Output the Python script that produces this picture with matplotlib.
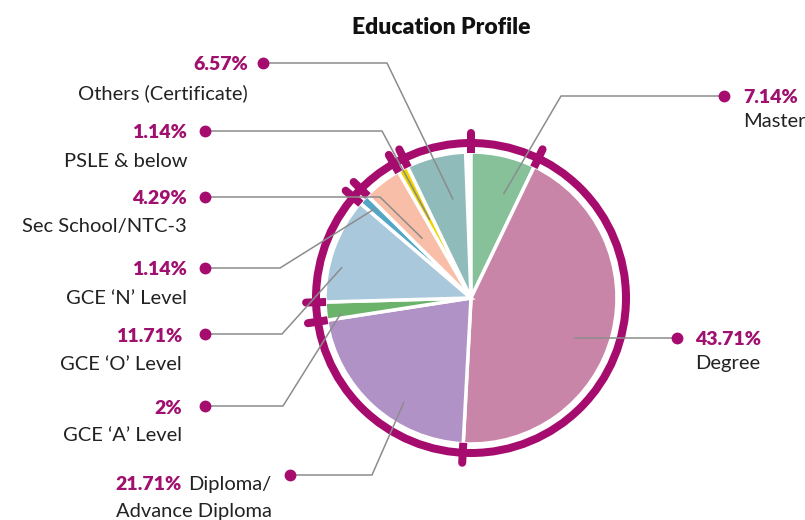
import numpy as np
import matplotlib.pyplot as plt
from matplotlib.patches import Circle

plt.rcParams['font.family'] = ['Lato', 'DejaVu Sans']

# data, clockwise from 12 o'clock
categories = ["Master", "Degree", "Diploma/", "GCE ‘A’ Level", "GCE ‘O’ Level",
              "GCE ‘N’ Level", "Sec School/NTC-3", "PSLE & below", "Others (Certificate)"]
values = [7.14, 43.71, 21.71, 2, 11.71, 1.14, 4.29, 1.14, 6.57]
pct_labels = ["7.14%", "43.71%", "21.71%", "2%", "11.71%", "1.14%", "4.29%", "1.14%", "6.57%"]
colors = ["#86c19a", "#c985a8", "#b192c6", "#6bb26a", "#a9c8dc",
          "#54a6c6", "#f8bea8", "#eed400", "#90bbbb"]

ring_color = "#a50c6e"
pct_color = "#a0106e"
line_color = "#8c8c8c"
text_color = "#222222"

W, H = 805, 520
cx, cy = 471, H - 298
R = 146
px = 0.72  # one pixel in points at dpi 100

# label layout (image pixels, y down): anchor position inside slice (fraction of slice, fraction of radius),
# dot, elbow x, text anchor x, pct y, name y, alignment
layout = [
    dict(frac=0.68, rf=0.75, dot=(724, 96), elbow=561, tx=743, py=96, ny=120, ha="left"),
    dict(frac=0.55, rf=0.77, dot=(677, 338), elbow=None, tx=695, py=338, ny=362, ha="left"),
    dict(frac=0.38, rf=0.85, dot=(290, 475), elbow=372, tx=182, py=483, ny=510, ha="right"),
    dict(frac=0.25, rf=0.90, dot=(205, 406), elbow=283, tx=182, py=407, ny=434, ha="right"),
    dict(frac=0.35, rf=0.91, dot=(205, 334), elbow=282, tx=182, py=335, ny=363, ha="right"),
    dict(frac=0.50, rf=0.90, dot=(205, 268), elbow=280, tx=187, py=268, ny=297, ha="right"),
    dict(frac=0.39, rf=0.53, dot=(205, 197), elbow=380, tx=187, py=197, ny=225, ha="right"),
    dict(frac=0.50, rf=0.61, dot=(205, 131), elbow=382, tx=187, py=131, ny=160, ha="right"),
    dict(frac=0.65, rf=0.69, dot=(263, 63), elbow=387, tx=248, py=63, ny=92, ha="right"),
]

fig = plt.figure(figsize=(8.05, 5.2), dpi=100)
ax = fig.add_axes([0, 0, 1, 1])

ax.pie(np.array(values) / 100, normalize=False, startangle=90, counterclock=False,
       center=(cx, cy), radius=R, colors=colors,
       wedgeprops=dict(edgecolor="white", linewidth=3.5 * px))

ax.add_patch(Circle((cx, cy), 155, fill=False, edgecolor=ring_color, linewidth=8 * px, zorder=2))

# ticks on the ring at every slice start
starts = np.concatenate([[0], np.cumsum(values)[:-1]])
for s in starts:
    a = np.deg2rad(90 - 360 * s / 100)
    c, sn = np.cos(a), np.sin(a)
    ax.plot([cx + (R - 1) * c, cx + 157 * c], [cy + (R - 1) * sn, cy + 157 * sn],
            color=ring_color, lw=8 * px, solid_capstyle="butt", zorder=3)
    ax.plot([cx + 156 * c, cx + 165 * c], [cy + 156 * sn, cy + 165 * sn],
            color=ring_color, lw=8 * px, solid_capstyle="round", zorder=3)

# leader lines, dots and labels
for i, lay in enumerate(layout):
    pos = starts[i] + lay["frac"] * values[i]
    a = np.deg2rad(90 - 360 * pos / 100)
    ax_, ay_ = cx + lay["rf"] * R * np.cos(a), cy + lay["rf"] * R * np.sin(a)
    dx, dy = lay["dot"][0], H - lay["dot"][1]
    xs, ys = [dx], [dy]
    if lay["elbow"] is not None:
        xs.append(lay["elbow"])
        ys.append(dy)
    else:
        ay_ = dy
    xs.append(ax_)
    ys.append(ay_)
    ax.plot(xs, ys, color=line_color, lw=1.1, zorder=4)
    ax.plot(dx, dy, "o", color=ring_color, ms=7.5, zorder=5)

    if i == 2:
        ax.text(lay["tx"], H - lay["py"], pct_labels[i], ha="right", va="center_baseline",
                fontsize=14, fontweight="heavy", color=pct_color)
        ax.text(lay["tx"] + 6, H - lay["py"], categories[i], ha="left", va="center_baseline",
                fontsize=14.5, color=text_color)
        ax.text(272, H - lay["ny"], "Advance Diploma", ha="right", va="center_baseline",
                fontsize=14.5, color=text_color)
    else:
        ax.text(lay["tx"], H - lay["py"], pct_labels[i], ha=lay["ha"], va="center_baseline",
                fontsize=14, fontweight="heavy", color=pct_color)
        ax.text(lay["tx"], H - lay["ny"], categories[i], ha=lay["ha"], va="center_baseline",
                fontsize=14.5, color=text_color)

ax.text(441, H - 26, "Education Profile", ha="center", va="center_baseline",
        fontsize=16.5, fontweight="heavy", color="#111111")

ax.set_xlim(0, W)
ax.set_ylim(0, H)
ax.set_aspect("equal")
ax.axis("off")

fig.savefig("out.png", dpi=100)
